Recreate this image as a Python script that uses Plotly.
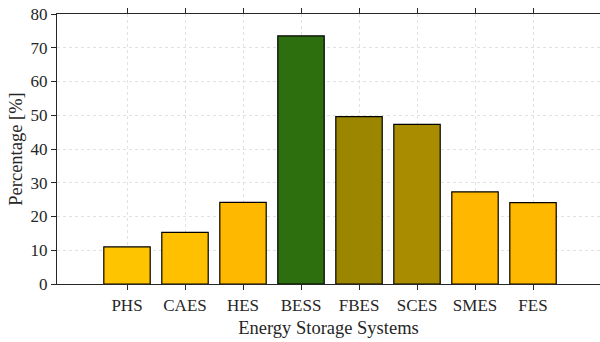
import plotly.graph_objects as go

categories = ["PHS", "CAES", "HES", "BESS", "FBES", "SCES", "SMES", "FES"]
values = [11.0, 15.3, 24.2, 73.5, 49.6, 47.3, 27.3, 24.1]
colors = ["#FFC400", "#FFC000", "#FFB800", "#2D6E0E", "#9C8600", "#AA8C00", "#FFB700", "#FFB800"]
y_ticks = [0, 10, 20, 30, 40, 50, 60, 70, 80]

fig = go.Figure(go.Bar(
    x=list(range(len(categories))), y=values,
    marker=dict(color=colors, line=dict(color="black", width=1.2)),
    width=0.8,
))

font = "Liberation Serif"
fig.update_layout(
    width=600, height=342,
    margin=dict(l=57, r=0, t=14, b=58),
    paper_bgcolor="white", plot_bgcolor="white",
    font=dict(family=font, size=17, color="#262626"),
    showlegend=False,
    xaxis=dict(
        range=[-1.207, 8.155], automargin=False,
        tickmode="array", tickvals=list(range(len(categories))), ticktext=categories,
        showline=True, linecolor="#262626", linewidth=1.2,
        mirror="ticks", ticks="outside", ticklen=5, tickcolor="#262626",
        showgrid=True, gridcolor="#e2e2e2", griddash="dot", gridwidth=1,
        title=dict(text="Energy Storage Systems", standoff=7, font=dict(size=18.5)),
        zeroline=False,
    ),
    yaxis=dict(
        range=[0, 80], tickvals=y_ticks, automargin=False,
        ticklabeloverflow="allow",
        showline=True, linecolor="#262626", linewidth=1.2,
        ticks="outside", ticklen=5, tickcolor="#262626",
        showgrid=True, gridcolor="#e2e2e2", griddash="dot", gridwidth=1,
        title=dict(text="Percentage [%]", standoff=3, font=dict(size=18.5)),
        zeroline=False,
    ),
)

fig.write_html(
    "out.html",
    config={"displayModeBar": False},
    post_script="document.body.style.margin='0';document.body.style.overflow='hidden';",
)
